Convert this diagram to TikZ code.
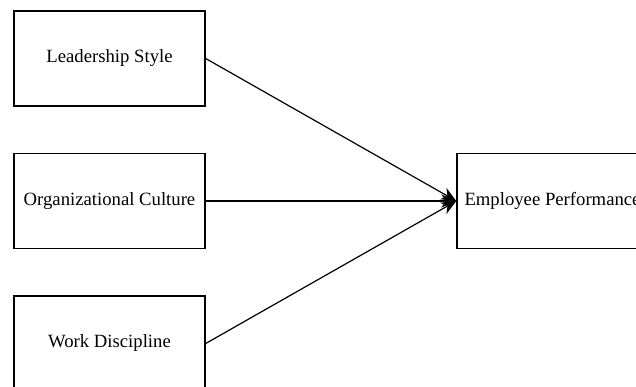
\documentclass[tikz,border=0pt]{standalone}
\usepackage{fontspec}
\setmainfont{Liberation Serif}
\usetikzlibrary{arrows.meta}
\tikzset{
  factor/.style={draw, line width=1.4pt, minimum width=191pt, minimum height=95pt,
    inner sep=0pt, font=\fontsize{18.7}{22}\selectfont},
  link/.style={line width=1.2pt, -{Stealth[length=15pt,width=13pt]}}
}
\begin{document}
\begin{tikzpicture}[x=1pt, y=-1pt]
      \clip (0,0) rectangle (636,387);
      \node[factor] (lead) at (109.5,58.5) {Leadership Style};
      \node[factor] (culture) at (109.5,201) {Organizational Culture};
      \node[factor] (disc) at (109.5,343.5) {Work Discipline};
      \node[factor] (perf) at (552.5,201) {Employee Performance};
      \draw[link] (lead.east) -- (perf.west);
      \draw[link] (culture.east) -- (perf.west);
      \draw[link] (disc.east) -- (perf.west);
    \end{tikzpicture}
\end{document}
